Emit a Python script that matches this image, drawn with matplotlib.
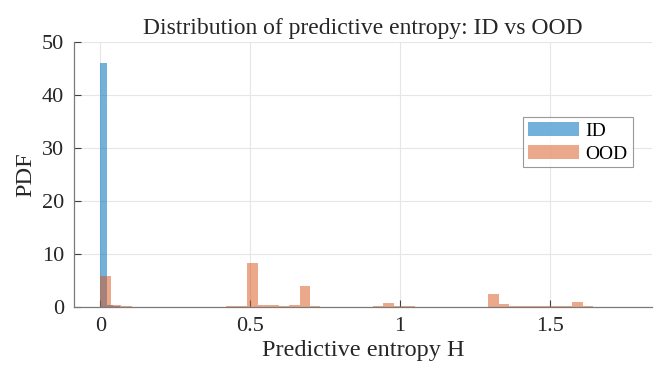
import numpy as np
import matplotlib.pyplot as plt

# histogram densities (bins start at 0)
id_bin_width = 0.0214
id_density = [46.1, 0.35, 0.1, 0.05, 0.03]

ood_bin_width = 0.035
ood_density = [5.85, 0.3, 0.15, 0.08, 0.07, 0.07, 0.06, 0.06, 0.06, 0.07, 0.07, 0.08, 0.1,
               0.2, 8.35, 0.4, 0.3, 0.25, 0.35, 3.95, 0.1, 0.08, 0.07, 0.07, 0.07, 0.08,
               0.15, 0.85, 0.15, 0.1, 0.05, 0.05, 0.05, 0.05, 0.05, 0.05, 0.05,
               2.45, 0.5, 0.15, 0.1, 0.1, 0.1, 0.1, 0.1, 0.9, 0.15]

x_ticks = [0, 0.5, 1, 1.5]
x_tick_labels = ["0", "0.5", "1", "1.5"]
y_ticks = [0, 10, 20, 30, 40, 50]

plt.rcParams['font.family'] = ['Liberation Serif', 'DejaVu Serif']

fig = plt.figure(figsize=(6.69, 3.83), dpi=100)
ax = fig.add_axes([0.1106, 0.1984, 0.8640, 0.6919])

id_edges = id_bin_width * np.arange(len(id_density) + 1)
ood_edges = ood_bin_width * np.arange(len(ood_density) + 1)

ax.stairs(id_density, id_edges, fill=True, color='#0072bd', alpha=0.55,
          linewidth=0, label='ID')
ax.stairs(ood_density, ood_edges, fill=True, color='#d95319', alpha=0.5,
          linewidth=0, label='OOD')

ax.set_xlim(-0.088, 1.842)
ax.set_ylim(0, 50)
ax.set_xticks(x_ticks)
ax.set_xticklabels(x_tick_labels)
ax.set_yticks(y_ticks)

ax.grid(True, color='#e6e6e6', linewidth=0.8)
ax.set_axisbelow(True)
for side in ['top', 'right']:
    ax.spines[side].set_visible(False)
for side in ['left', 'bottom']:
    ax.spines[side].set_color('#7a7a7a')
    ax.spines[side].set_linewidth(0.9)
ax.tick_params(direction='in', length=5, width=0.8, color='#404040',
               labelsize=16, labelcolor='#262626', pad=7)

ax.set_title('Distribution of predictive entropy: ID vs OOD', fontsize=17,
             color='#262626', pad=6)
ax.set_xlabel('Predictive entropy H', fontsize=17.5, color='#262626', labelpad=3)
ax.set_ylabel('PDF', fontsize=17.5, color='#262626', labelpad=4)

leg = ax.legend(loc='upper right', bbox_to_anchor=(0.9666, 0.718), fontsize=14,
                handlelength=2.6, handleheight=0.78, frameon=True, fancybox=False,
                borderpad=0.25, labelspacing=0.25, handletextpad=0.35,
                borderaxespad=0)
leg.get_frame().set_edgecolor('#808080')
leg.get_frame().set_linewidth(0.8)

fig.savefig('out.png', dpi=100)
